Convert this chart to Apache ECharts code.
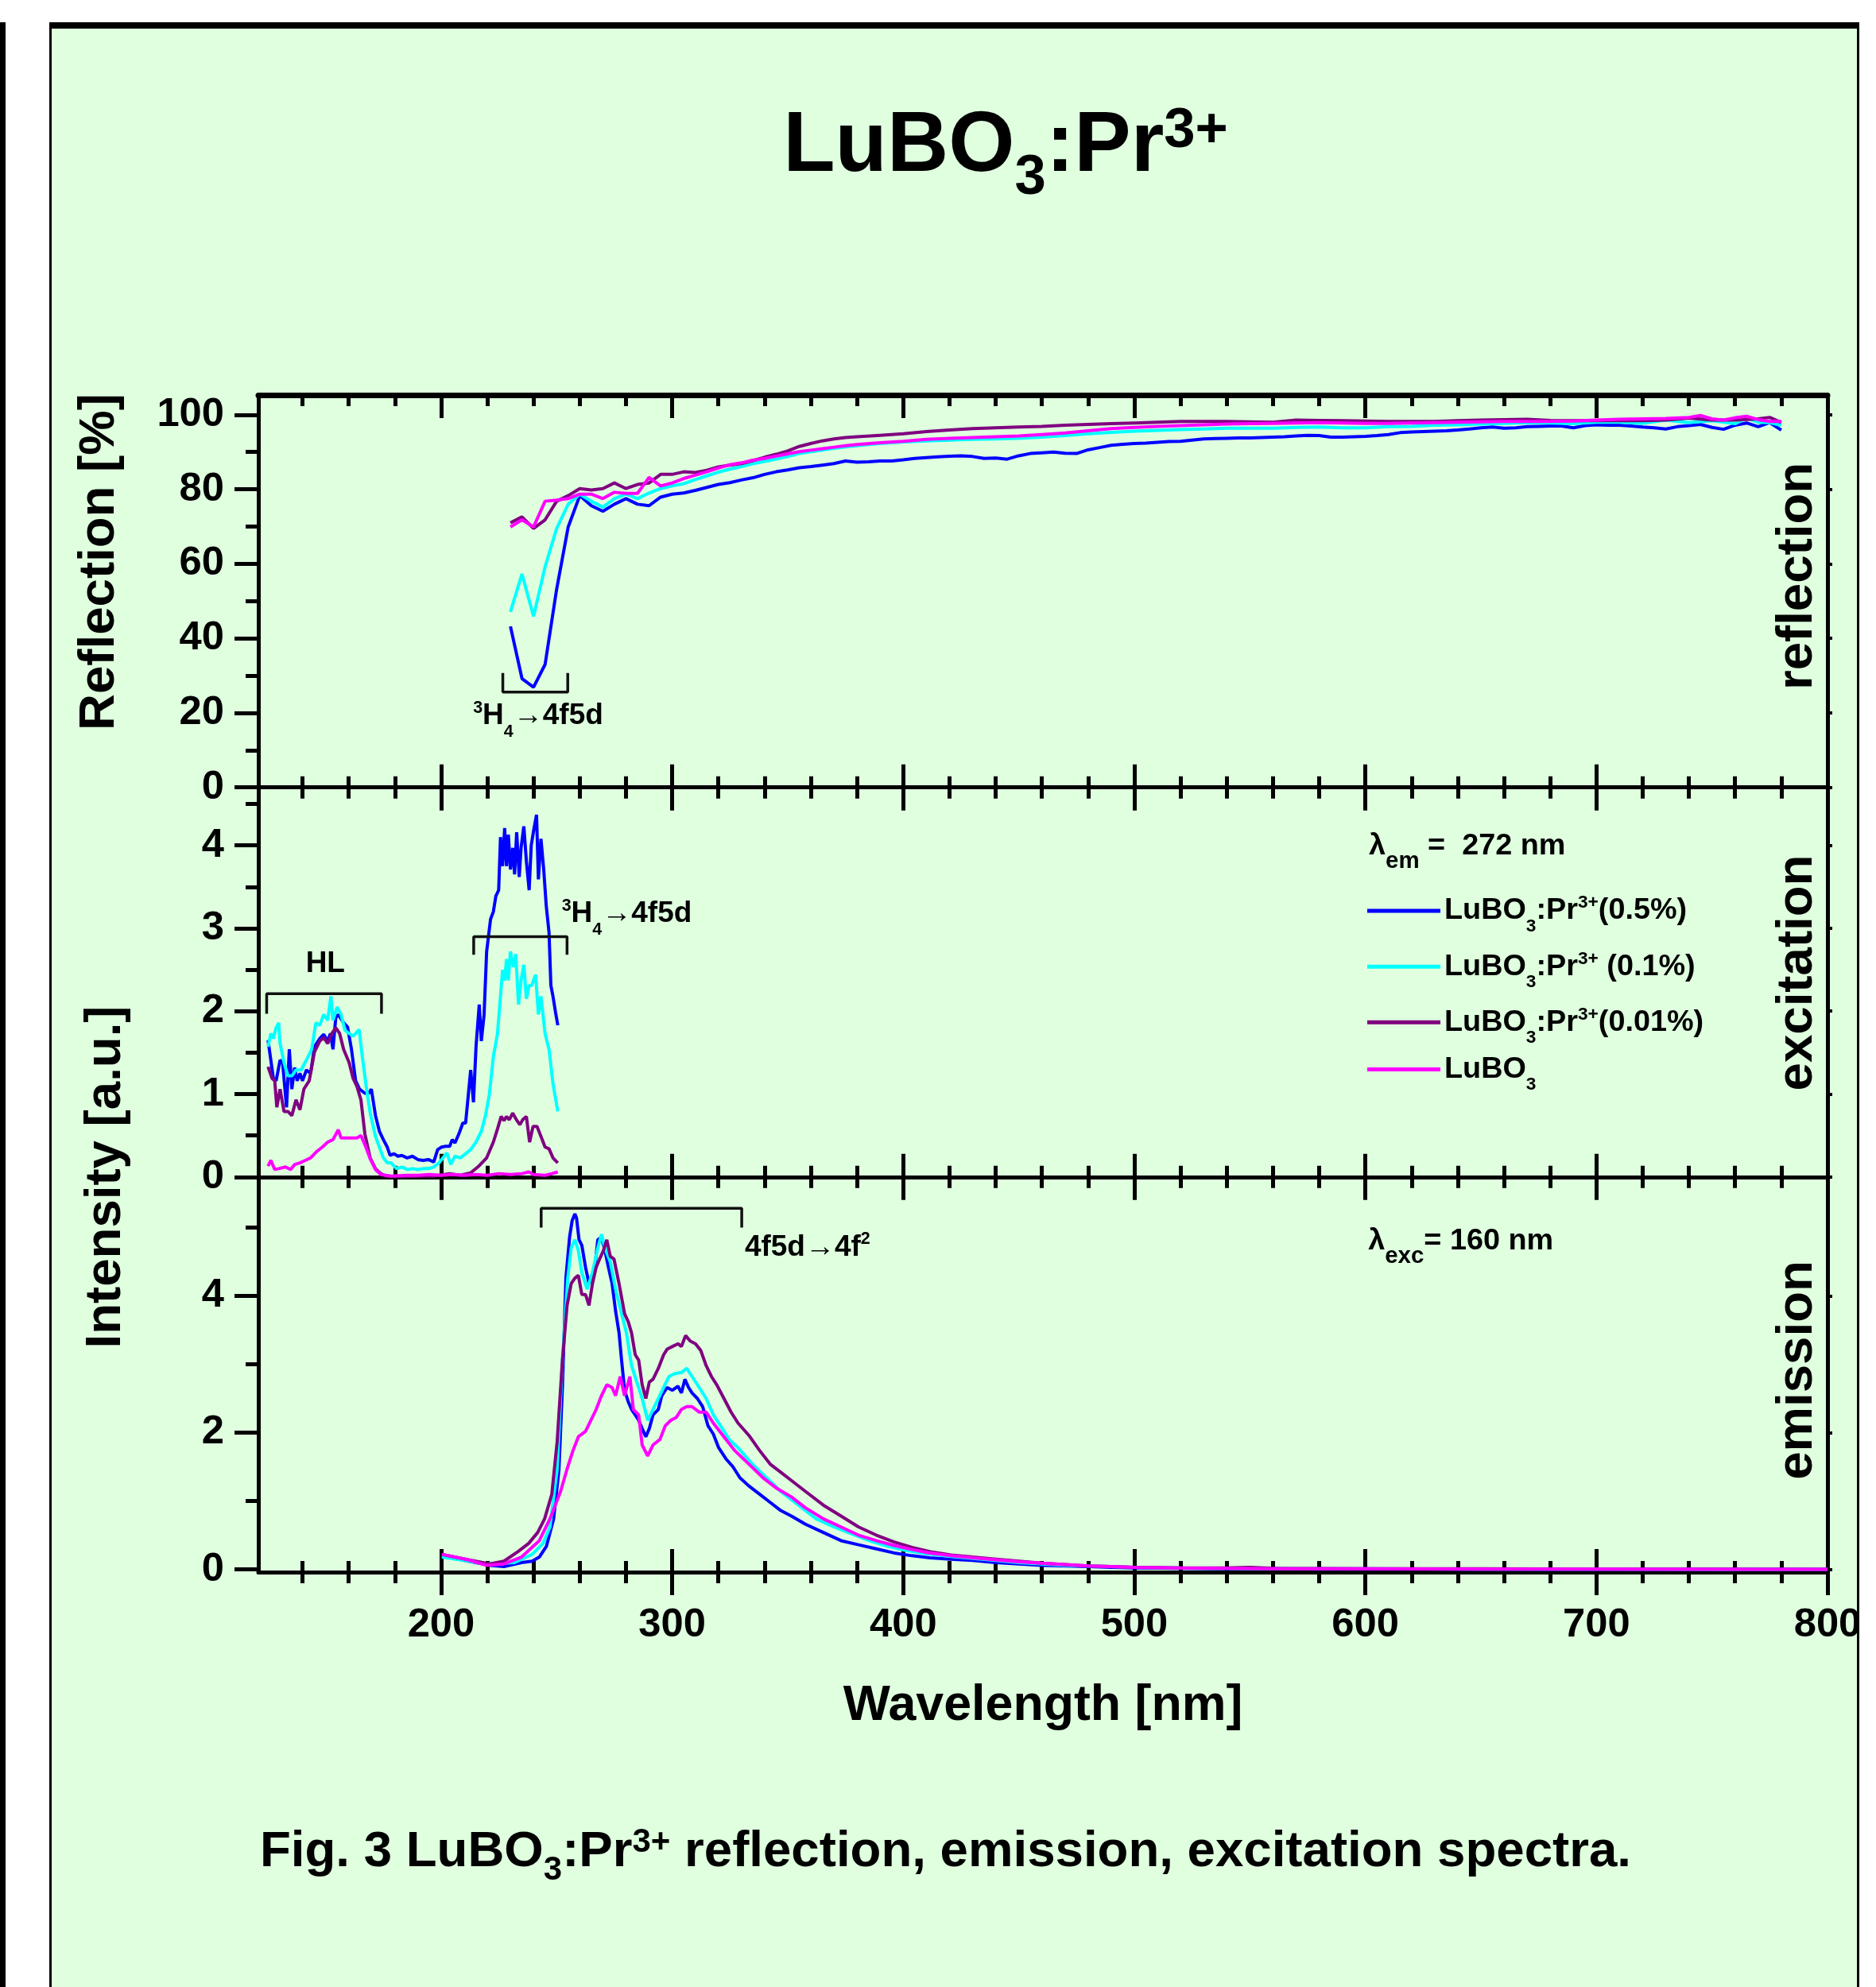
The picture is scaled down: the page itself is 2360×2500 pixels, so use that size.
<!DOCTYPE html>
<html><head><meta charset="utf-8">
<script src="https://cdn.jsdelivr.net/npm/echarts@6/dist/echarts.min.js"></script>
<style>html,body{margin:0;padding:0;background:#fff}#c{width:2360px;height:2500px}</style>
</head><body><div id="c"></div><script>
// ---------------- DATA ----------------
const SERIES_NAMES = ['LuBO3:Pr3+(0.5%)', 'LuBO3:Pr3+ (0.1%)', 'LuBO3:Pr3+(0.01%)', 'LuBO3'];
const SERIES_COLORS = ['#0000ff', '#00ffff', '#800080', '#ff00ff'];
const X_TICKS_MAJOR = [200, 800, 100];
const X_TICKS_MINOR = [140, 780, 20];

// Reflection [%] vs wavelength [nm]
const reflPr05 = [[230,43.2],[235,29.2],[240,26.9],[245,33.0],[250,53.2],[255,69.9],[260,78.3],[265,75.6],[270,74.1],[275,76.0],[280,77.5],[285,76.0],[290,75.6],[295,77.9],[300,78.7],[305,79.0],[310,79.7],[315,80.5],[320,81.3],[325,81.8],[330,82.5],[335,83.1],[340,84.0],[345,84.7],[350,85.2],[355,85.8],[360,86.1],[365,86.5],[370,86.9],[375,87.6],[380,87.3],[385,87.4],[390,87.6],[395,87.6],[400,87.9],[405,88.3],[410,88.5],[415,88.7],[420,88.9],[425,89.0],[430,88.8],[435,88.3],[440,88.4],[445,88.1],[450,89.0],[455,89.6],[460,89.8],[465,90.0],[470,89.7],[475,89.6],[480,90.6],[485,91.2],[490,91.8],[495,92.1],[500,92.3],[505,92.4],[510,92.6],[515,92.8],[520,92.9],[525,93.2],[530,93.5],[535,93.6],[540,93.7],[545,93.8],[550,93.8],[555,93.9],[560,94.0],[565,94.1],[570,94.3],[575,94.5],[580,94.4],[585,94.0],[590,94.0],[595,94.1],[600,94.2],[605,94.4],[610,94.7],[615,95.2],[620,95.4],[625,95.5],[630,95.6],[635,95.7],[640,95.9],[645,96.2],[650,96.5],[655,96.7],[660,96.4],[665,96.5],[670,96.8],[675,96.9],[680,97.0],[685,97.0],[690,96.5],[695,97.1],[700,97.3],[705,97.2],[710,97.2],[715,97.0],[720,96.7],[725,96.5],[730,96.2],[735,96.8],[740,97.1],[745,97.4],[750,96.6],[755,96.1],[760,97.2],[765,97.8],[770,96.8],[775,97.9],[780,95.9]];
const reflPr01 = [[230,47.1],[235,57.3],[240,45.9],[245,59.2],[250,69.5],[255,76.0],[260,78.7],[265,76.8],[270,75.2],[275,77.5],[280,78.7],[285,77.5],[290,79.0],[295,80.2],[300,80.9],[305,81.5],[310,82.6],[315,83.6],[320,84.6],[325,85.4],[330,86.1],[335,86.9],[340,87.5],[345,88.1],[350,88.8],[355,89.6],[360,90.1],[365,90.5],[370,91.0],[375,91.4],[380,91.7],[385,92.0],[390,92.3],[395,92.5],[400,92.7],[410,93.0],[420,93.2],[430,93.4],[440,93.5],[450,93.7],[460,94.0],[470,94.4],[480,94.9],[490,95.3],[500,95.6],[510,95.8],[520,96.0],[530,96.2],[540,96.4],[550,96.4],[560,96.4],[570,96.6],[580,96.7],[590,96.5],[600,96.5],[610,96.8],[620,96.9],[630,97.2],[640,97.3],[650,97.5],[660,97.7],[670,97.9],[680,97.8],[690,97.6],[700,98.0],[710,98.0],[720,97.7],[730,98.6],[740,97.9],[750,98.4],[760,97.6],[765,99.1],[770,98.0],[775,97.9],[780,97.2]];
const reflPr001 = [[230,71.0],[235,72.6],[240,69.5],[245,71.8],[250,76.8],[255,78.3],[260,80.2],[265,79.8],[270,80.2],[275,81.7],[280,80.2],[285,81.3],[290,81.7],[295,84.0],[300,84.0],[305,84.7],[310,84.5],[315,85.1],[320,86.0],[325,86.5],[330,86.9],[335,87.7],[340,88.6],[345,89.4],[350,90.3],[355,91.5],[360,92.3],[365,93.0],[370,93.5],[375,93.9],[380,94.1],[390,94.5],[400,94.9],[410,95.5],[420,95.9],[430,96.3],[440,96.5],[450,96.7],[460,96.9],[470,97.2],[480,97.4],[490,97.6],[500,97.8],[510,98.0],[520,98.2],[530,98.2],[540,98.2],[550,98.1],[560,98.0],[570,98.6],[580,98.5],[590,98.4],[600,98.3],[610,98.2],[620,98.2],[630,98.2],[640,98.4],[650,98.6],[660,98.7],[670,98.8],[680,98.5],[690,98.4],[700,98.4],[710,98.4],[720,98.4],[730,98.6],[740,99.1],[750,98.6],[760,98.6],[770,98.9],[775,99.3],[780,97.9]];
const reflHost = [[230,69.9],[235,71.8],[240,69.9],[245,76.8],[250,77.1],[255,77.5],[260,78.7],[265,78.7],[270,77.5],[275,79.2],[280,78.9],[285,78.9],[290,83.2],[295,80.9],[300,81.7],[305,82.9],[310,83.8],[315,84.7],[320,85.7],[325,86.6],[330,87.1],[335,87.8],[340,88.3],[345,88.9],[350,89.5],[355,90.1],[360,90.5],[365,90.9],[370,91.3],[375,91.7],[380,92.0],[390,92.5],[400,92.9],[410,93.4],[420,93.7],[430,93.9],[440,94.1],[450,94.3],[460,94.7],[470,95.1],[480,95.7],[490,96.3],[500,96.6],[510,96.9],[520,97.1],[530,97.3],[540,97.5],[550,97.6],[560,97.7],[570,97.8],[580,97.9],[590,97.8],[600,97.7],[610,97.7],[620,97.8],[630,97.9],[640,98.0],[650,98.1],[660,98.2],[670,98.2],[680,98.2],[690,98.3],[700,98.6],[710,98.8],[720,98.9],[730,99.0],[740,99.3],[745,99.8],[750,98.9],[755,98.6],[760,99.2],[765,99.6],[770,98.7],[775,98.2],[780,98.2]];

// Excitation intensity [a.u.] (lambda_em = 272 nm)
const excPr05 = [[125.1,1.65],[127.4,1.19],[128.6,1.16],[130.3,1.41],[131.4,1.38],[133.1,0.84],[134.3,1.54],[135.4,1.06],[136.6,1.32],[137.7,1.16],[138.9,1.25],[140.0,1.16],[141.7,1.29],[143.5,1.25],[145.2,1.57],[147.5,1.67],[149.2,1.72],[150.9,1.64],[152.1,1.73],[153.2,1.54],[154.4,1.92],[155.5,1.96],[157.8,1.86],[159.5,1.81],[161.2,1.54],[163.0,1.16],[164.7,1.06],[167.0,1.01],[168.7,1.01],[169.8,1.06],[171.6,0.74],[173.3,0.55],[175.0,0.45],[176.7,0.36],[177.9,0.26],[179.6,0.28],[181.3,0.25],[183.0,0.26],[185.3,0.23],[187.6,0.25],[189.9,0.21],[192.2,0.20],[194.5,0.21],[196.8,0.18],[198.5,0.33],[200.2,0.36],[201.9,0.37],[203.7,0.37],[204.8,0.45],[206.0,0.41],[207.7,0.52],[209.4,0.65],[210.6,0.65],[211.7,0.97],[212.8,1.29],[214.0,0.90],[215.1,1.57],[216.5,2.08],[217.4,1.64],[218.6,1.96],[219.7,2.72],[221.4,3.11],[222.6,3.20],[223.7,3.39],[224.9,3.46],[225.7,4.10],[226.6,3.75],[227.5,4.21],[228.3,3.75],[229.1,4.13],[230.0,3.71],[231.0,3.97],[231.8,3.65],[232.7,4.16],[233.8,3.62],[234.6,3.97],[235.8,4.23],[236.9,3.81],[238.1,3.46],[239.0,4.00],[240.1,4.19],[241.3,4.37],[242.1,3.59],[243.2,4.08],[244.4,3.71],[245.5,3.27],[246.7,2.95],[247.5,2.31],[248.4,2.18],[249.5,1.99],[250.5,1.83]];
const excPr01 = [[125.1,1.57],[126.3,1.73],[127.4,1.67],[128.6,1.80],[129.7,1.86],[130.3,1.61],[132.0,1.38],[133.7,1.22],[135.4,1.22],[137.2,1.29],[139.4,1.29],[141.7,1.41],[144.0,1.54],[145.8,1.86],[147.5,1.83],[149.2,1.96],[150.9,1.89],[152.3,2.18],[153.2,1.89],[155.0,2.05],[156.7,1.96],[158.4,1.77],[160.2,1.73],[161.9,1.70],[163.0,1.73],[164.5,1.78],[165.9,1.45],[167.6,1.09],[169.3,0.77],[171.6,0.49],[173.3,0.36],[175.0,0.23],[176.7,0.17],[178.4,0.17],[180.7,0.10],[183.0,0.12],[185.3,0.09],[187.6,0.10],[189.9,0.09],[192.2,0.10],[194.5,0.10],[196.8,0.12],[199.1,0.17],[200.8,0.23],[202.5,0.29],[204.2,0.15],[206.0,0.25],[208.3,0.23],[210.6,0.28],[212.8,0.33],[215.1,0.42],[217.4,0.55],[219.2,0.74],[220.9,1.00],[222.6,1.45],[224.4,1.73],[225.7,2.18],[226.6,2.50],[227.5,2.37],[228.3,2.63],[229.1,2.37],[230.0,2.72],[231.2,2.53],[232.3,2.69],[233.5,2.08],[234.6,2.37],[235.8,2.56],[236.9,2.15],[238.1,2.31],[239.2,2.31],[240.9,2.44],[242.1,1.96],[243.2,2.18],[245.0,1.73],[246.7,1.54],[248.4,1.13],[250.5,0.79]];
const excPr001 = [[125.1,1.33],[126.8,1.19],[128.0,1.16],[128.9,0.84],[130.3,1.06],[132.0,0.79],[133.7,0.79],[135.4,0.74],[137.2,0.93],[138.9,0.81],[140.6,1.06],[142.9,1.16],[145.2,1.51],[147.5,1.64],[149.2,1.68],[150.9,1.61],[152.7,1.73],[154.4,1.80],[156.1,1.73],[157.8,1.54],[160.2,1.38],[161.9,1.19],[163.6,1.09],[165.3,0.93],[167.0,0.52],[169.3,0.23],[171.6,0.10],[173.9,0.04],[176.1,0.01],[183.0,0.00],[190.0,0.01],[196.8,0.01],[203.7,0.04],[208.3,0.02],[212.8,0.05],[216.3,0.13],[219.7,0.23],[222.6,0.42],[224.4,0.58],[226.0,0.73],[227.2,0.68],[228.3,0.73],[229.5,0.69],[231.0,0.77],[232.6,0.69],[234.1,0.63],[235.3,0.69],[236.9,0.73],[238.3,0.42],[239.8,0.61],[241.5,0.61],[243.2,0.49],[245.0,0.36],[246.7,0.34],[248.4,0.23],[250.5,0.17]];
const excHost = [[125.1,0.13],[126.3,0.20],[128.0,0.09],[129.7,0.10],[132.6,0.12],[134.9,0.09],[136.6,0.15],[138.9,0.17],[141.2,0.20],[143.5,0.23],[146.3,0.31],[148.6,0.36],[150.9,0.42],[153.2,0.45],[155.5,0.57],[156.7,0.47],[160.2,0.47],[163.6,0.47],[165.3,0.50],[167.0,0.39],[169.3,0.22],[171.6,0.09],[173.9,0.03],[178.4,0.01],[185,0.02],[190,0.02],[195,0.03],[200,0.02],[205,0.03],[210,0.02],[215,0.03],[220,0.02],[225,0.04],[230,0.03],[235,0.04],[238,0.06],[240,0.03],[245,0.02],[248,0.04],[250.5,0.06]];

// Emission intensity [a.u.] (lambda_exc = 160 nm)
const emPr05 = [[200.3,0.20],[211.8,0.12],[221.0,0.06],[227.2,0.04],[234.8,0.10],[239.4,0.12],[242.5,0.18],[245.6,0.34],[248.7,0.74],[251.0,1.46],[252.5,2.66],[254.0,4.26],[255.6,4.86],[256.7,5.10],[257.9,5.20],[258.6,5.14],[259.7,4.82],[260.9,4.74],[262.5,4.42],[264.0,4.18],[266.3,4.34],[267.8,4.82],[269.4,4.86],[270.9,4.66],[272.4,4.42],[274.0,4.18],[275.5,3.78],[277.0,3.46],[278.1,3.06],[279.4,2.62],[280.9,2.46],[282.4,2.34],[284.0,2.26],[285.5,2.18],[287.0,2.06],[288.6,1.94],[290.1,2.06],[291.7,2.26],[294.0,2.34],[295.5,2.54],[297.8,2.66],[300.1,2.62],[302.5,2.68],[304.0,2.58],[305.5,2.78],[307.1,2.66],[308.6,2.58],[310.9,2.50],[313.2,2.38],[315.5,2.10],[317.8,1.98],[320.1,1.78],[323.2,1.62],[326.3,1.50],[329.3,1.34],[333.2,1.22],[337.8,1.10],[342.4,0.98],[347.0,0.86],[351.6,0.78],[357.7,0.66],[365.4,0.54],[373.1,0.42],[380.7,0.36],[388.4,0.30],[396.1,0.24],[403.8,0.20],[411.5,0.17],[420.7,0.15],[430,0.13],[440,0.10],[450,0.08],[460,0.06],[470,0.05],[480,0.04],[490,0.03],[500,0.02],[520,0.015],[540,0.01],[560,0.01],[580,0.005],[600,0.005],[650,0.003],[700,0.002],[750,0.0],[800,0.0]];
const emPr01 = [[200.3,0.18],[210,0.13],[219.5,0.08],[231.8,0.10],[239.4,0.22],[244.1,0.38],[247.1,0.62],[250.2,1.46],[252.5,3.06],[254.8,4.26],[256.3,4.70],[257.9,4.82],[259.4,4.66],[260.9,4.34],[263.2,4.10],[265.5,4.34],[267.8,4.70],[269.4,4.90],[270.9,4.70],[273.2,4.50],[275.5,4.10],[277.8,3.78],[280.2,3.46],[282.4,2.98],[284.7,2.74],[287.0,2.50],[289.4,2.18],[291.7,2.34],[294.0,2.50],[296.3,2.66],[298.6,2.82],[300.9,2.86],[304.0,2.88],[306.3,2.94],[308.6,2.82],[311.7,2.66],[314.7,2.50],[317.8,2.26],[320.9,2.10],[324.7,1.90],[328.5,1.78],[334.7,1.54],[340.8,1.34],[347.0,1.14],[354.6,0.94],[362.3,0.74],[370.0,0.62],[377.7,0.52],[385.3,0.42],[393.0,0.34],[400.7,0.28],[409.9,0.23],[420.7,0.19],[430,0.16],[440,0.13],[450,0.10],[460,0.08],[470,0.06],[480,0.05],[490,0.04],[500,0.03],[520,0.02],[540,0.015],[560,0.01],[600,0.01],[650,0.005],[700,0.005],[750,0.002],[800,0.0]];
const emPr001 = [[200.3,0.22],[211.8,0.14],[221.0,0.08],[227.2,0.12],[233.3,0.26],[237.9,0.38],[241.8,0.54],[244.8,0.74],[247.9,1.10],[250.2,1.86],[252.5,3.06],[254.5,3.86],[256.3,4.18],[257.9,4.26],[259.4,4.30],[260.9,4.02],[262.5,4.02],[264.0,3.86],[265.5,4.18],[267.1,4.42],[268.6,4.54],[270.2,4.66],[271.7,4.82],[273.2,4.58],[274.8,4.54],[277.0,4.18],[279.4,3.74],[281.0,3.62],[282.4,3.46],[284.0,3.14],[285.5,3.06],[287.0,2.70],[288.6,2.50],[290.1,2.74],[291.7,2.78],[294.0,2.94],[296.3,3.14],[297.8,3.22],[300.1,3.26],[302.5,3.30],[304.0,3.26],[305.8,3.42],[307.8,3.34],[310.1,3.30],[312.4,3.20],[314.7,2.98],[317.0,2.82],[319.3,2.70],[322.4,2.50],[325.5,2.30],[328.5,2.14],[333.2,1.96],[337.8,1.74],[342.4,1.54],[347.0,1.42],[351.6,1.30],[357.7,1.14],[365.4,0.94],[373.1,0.78],[380.7,0.62],[388.4,0.50],[396.1,0.40],[403.8,0.32],[411.5,0.26],[420.7,0.21],[430,0.18],[440,0.15],[450,0.12],[460,0.09],[470,0.07],[480,0.05],[490,0.04],[500,0.03],[520,0.02],[540,0.02],[550,0.03],[560,0.015],[600,0.01],[650,0.01],[700,0.005],[750,0.005],[800,0.0]];
const emHost = [[200.3,0.22],[211.8,0.14],[219.5,0.06],[227.2,0.08],[234.8,0.18],[242.5,0.42],[247.1,0.74],[251.7,1.14],[254.8,1.50],[257.1,1.74],[259.4,1.94],[262.5,2.02],[264.8,2.18],[267.1,2.34],[269.4,2.54],[271.7,2.70],[274.0,2.66],[275.5,2.54],[277.5,2.82],[279.4,2.54],[281.7,2.82],[283.2,2.34],[285.5,2.26],[287.0,1.82],[289.4,1.66],[291.7,1.82],[294.7,1.90],[297.0,2.10],[299.4,2.18],[301.7,2.22],[304.0,2.34],[306.3,2.38],[308.6,2.38],[311.7,2.30],[314.7,2.30],[317.8,2.14],[322.4,1.94],[327.0,1.74],[333.2,1.54],[339.3,1.34],[345.5,1.18],[351.6,1.06],[357.7,0.90],[365.4,0.74],[373.1,0.62],[380.7,0.50],[388.4,0.42],[396.1,0.35],[403.8,0.29],[411.5,0.24],[420.7,0.20],[430,0.17],[440,0.14],[450,0.11],[460,0.09],[470,0.07],[480,0.05],[490,0.04],[500,0.03],[520,0.02],[540,0.015],[560,0.01],[600,0.01],[650,0.005],[700,0.005],[750,0.002],[800,0.0]];

// Annotation brackets (data coordinates of each panel)
const bracketRefl = [[226.7,30.7],[226.7,25.6],[254.8,25.6],[254.8,30.7]];
const bracketHL = [[124.5,1.97],[124.5,2.21],[174.2,2.21],[174.2,1.97]];
const bracketExc = [[214.1,2.68],[214.1,2.90],[254.5,2.90],[254.5,2.68]];
const bracketEm = [[243.3,5.00],[243.3,5.28],[330.1,5.28],[330.1,5.00]];

// ---------------- FONTS ----------------
const mctx = document.createElement('canvas').getContext('2d');
function fontExists(name){
  const s = 'abcdefghijklmnopqrstuvwxyzWMB0123456789';
  let r = false;
  ['monospace','serif'].forEach(fb => {
    mctx.font = 'bold 100px ' + fb; const a = mctx.measureText(s).width;
    mctx.font = 'bold 100px "' + name + '", ' + fb; const b = mctx.measureText(s).width;
    if (a !== b) r = true;
  });
  return r;
}
const FAM = fontExists('Liberation Sans Narrow') ? '"Liberation Sans Narrow", "Liberation Sans", Arial, sans-serif'
          : (fontExists('Arial Narrow') ? '"Arial Narrow", "Liberation Sans", Arial, sans-serif' : '"Liberation Sans", Arial, sans-serif');
const FAM_TITLE = '"Liberation Sans", Arial, sans-serif';
mctx.font = 'bold 73px ' + FAM;
const K = 503 / mctx.measureText('Wavelength [nm]').width;
const fs = s => Math.round(s * K * 10) / 10;

// rich text with sub/superscripts: token 'height' sets where the small token sits in the line box
function richSet(s, o, fam){
  const base = {fontFamily: fam || FAM, fontWeight: 'bold', fill: '#000', color: '#000'};
  const hs = Math.max(1, o.lh - 2 * o.up * s), hb = Math.max(1, o.lh - 2 * o.down * s);
  return {
    m: Object.assign({}, base, {fontSize: s, lineHeight: o.lh, verticalAlign: 'middle'}),
    sp: Object.assign({}, base, {fontSize: s * o.small, height: hs, lineHeight: hs, verticalAlign: 'top'}),
    sb: Object.assign({}, base, {fontSize: s * o.small, height: hb, lineHeight: hb, verticalAlign: 'bottom'})
  };
}

// ---------------- LAYOUT ----------------
const X_L = 325, X_R = 2299, XMIN = 120.9, XMAX = 800;
const xpx = v => X_L + (v - XMIN) * (X_R - X_L) / (XMAX - XMIN);
const PANELS = [
  {top: 497, bot: 990.7, ymin: 0, ymax: 105.3, maj: [0, 100, 20], mnr: [10, 90, 20]},
  {top: 990.7, bot: 1480.8, ymin: 0, ymax: 4.70, maj: [0, 4, 1], mnr: [0.5, 4.5, 1]},
  {top: 1480.8, bot: 1978, ymin: -0.04, ymax: 5.74, maj: [0, 4, 2], mnr: [1, 5, 2]}
];
const ypx = (P, v) => P.bot - (v - P.ymin) / (P.ymax - P.ymin) * (P.bot - P.top);
const BLACK = '#000', LW = 5;
const grid = [], xAxis = [], yAxis = [], series = [];
const DX = [], DY = [];
function G(left, top, width, height){ grid.push({left, top, width, height, show: false, containLabel: false, outerBoundsMode: 'none'}); return grid.length - 1; }
function AX(list, o){
  list.push(Object.assign({type: 'value', splitLine: {show: false}, axisLabel: {show: false}, axisTick: {show: false},
    axisLine: {show: false, onZero: false}, minorTick: {show: false}, minorSplitLine: {show: false}}, o));
  return list.length - 1;
}
const lineOn = w => ({show: true, onZero: false, lineStyle: {color: BLACK, width: w}});
const tickLabel = (margin) => ({show: true, margin, fontSize: fs(59), fontWeight: 'bold', fontFamily: FAM, color: BLACK, showMinLabel: true, showMaxLabel: true});

PANELS.forEach((P, i) => {
  const h = P.bot - P.top;
  const g = G(X_L, P.top, X_R - X_L, h);
  DX[i] = AX(xAxis, {gridIndex: g, position: 'bottom', min: XMIN, max: XMAX, axisLine: lineOn(LW)});
  AX(xAxis, {gridIndex: g, position: 'top', min: XMIN, max: XMAX, axisLine: lineOn(i === 0 ? 7 : LW)});
  DY[i] = AX(yAxis, {gridIndex: g, position: 'left', min: P.ymin, max: P.ymax, axisLine: lineOn(LW)});
  AX(yAxis, {gridIndex: g, position: 'right', min: P.ymin, max: P.ymax, axisLine: lineOn(LW)});
  // x ticks (major & minor), crossing at panel borders
  [[X_TICKS_MAJOR, 29], [X_TICKS_MINOR, 14]].forEach(([T, len], k) => {
    const gl = xpx(T[0]), gr = xpx(T[1]);
    const gx = G(gl, P.top, gr - gl, h);
    AX(yAxis, {gridIndex: gx, show: false, min: 0, max: 1});
    const tk = inside => ({show: true, inside, length: len, lineStyle: {color: BLACK, width: LW}});
    const base = {gridIndex: gx, min: T[0], max: T[1], interval: T[2]};
    AX(xAxis, Object.assign({}, base, {position: 'bottom', axisTick: tk(false), axisLabel: (i === 2 && k === 0) ? tickLabel(42) : {show: false}}));
    AX(xAxis, Object.assign({}, base, {position: 'top', axisTick: tk(i === 0)}));
    if (i === 2) AX(xAxis, Object.assign({}, base, {position: 'bottom', axisTick: tk(true)}));
  });
  // y ticks
  [[P.maj, 30, true], [P.mnr, 16, false]].forEach(([T, len, major]) => {
    const gt = ypx(P, T[1]), gb = ypx(P, T[0]);
    const gy = G(X_L, gt, X_R - X_L, gb - gt);
    AX(xAxis, {gridIndex: gy, show: false, min: 0, max: 1});
    AX(yAxis, {gridIndex: gy, position: 'left', min: T[0], max: T[1], interval: T[2],
      axisTick: {show: true, inside: false, length: len, lineStyle: {color: BLACK, width: LW}},
      axisLabel: major ? tickLabel(43) : {show: false}});
    if (major) AX(yAxis, {gridIndex: gy, position: 'right', min: T[0], max: T[1], interval: T[2],
      axisTick: {show: true, inside: false, length: 6, lineStyle: {color: BLACK, width: 4}}});
  });
});

const PANEL_DATA = [
  [reflPr05, reflPr01, reflPr001, reflHost],
  [excPr05, excPr01, excPr001, excHost],
  [emPr05, emPr01, emPr001, emHost]
];
PANEL_DATA.forEach((arr, i) => arr.forEach((d, k) => series.push({
  type: 'line', name: SERIES_NAMES[k], xAxisIndex: DX[i], yAxisIndex: DY[i], data: d,
  showSymbol: false, symbol: 'none', color: SERIES_COLORS[k], itemStyle: {color: SERIES_COLORS[k]},
  lineStyle: {color: SERIES_COLORS[k], width: 4}, silent: true, z: 3
})));
[[0, bracketRefl], [1, bracketHL], [1, bracketExc], [2, bracketEm]].forEach(([p, pts], j) => series.push({
  type: 'line', name: 'bracket' + j, xAxisIndex: DX[p], yAxisIndex: DY[p], data: pts,
  showSymbol: false, symbol: 'none', color: '#111', lineStyle: {color: '#111', width: 3.5}, silent: true, z: 4
}));

const legRich = richSet(fs(44), {lh: 60, up: 0.26, down: 0.52, small: 0.6});
const LEG_TEXT = {
  'LuBO3:Pr3+(0.5%)': '{m|LuBO}{sb|3}{m|:Pr}{sp|3+}{m|(0.5%)}',
  'LuBO3:Pr3+ (0.1%)': '{m|LuBO}{sb|3}{m|:Pr}{sp|3+}{m| (0.1%)}',
  'LuBO3:Pr3+(0.01%)': '{m|LuBO}{sb|3}{m|:Pr}{sp|3+}{m|(0.01%)}',
  'LuBO3': '{m|LuBO}{sb|3}'
};

const option = {
  animation: false,
  backgroundColor: '#dfffdf',
  textStyle: {fontFamily: FAM},
  grid, xAxis, yAxis, series,
  legend: {
    data: SERIES_NAMES, orient: 'vertical', left: 1720, top: 1116, padding: 0,
    itemWidth: 92, itemHeight: 5, itemGap: 9, icon: 'rect', selectedMode: false,
    itemStyle: {borderWidth: 0},
    formatter: n => LEG_TEXT[n],
    textStyle: {rich: legRich, fontFamily: FAM, fontWeight: 'bold', fontSize: fs(44), color: '#000'}
  }
};

const chart = echarts.init(document.getElementById('c'), null, {renderer: 'canvas', width: 2360, height: 2500});
chart.setOption(option);

// ---------------- TEXT / FRAME GRAPHICS ----------------
function txt(x, y, text, rich, align, rot, fam, size){
  return {type: 'text', x, y, rotation: rot || 0, z: 100, silent: true,
    style: {text, rich, align, verticalAlign: 'middle', textAlign: align, textVerticalAlign: 'middle',
      fill: '#000', font: 'bold ' + size + 'px ' + (fam || FAM)}};
}
const P2 = (p, x, y) => chart.convertToPixel({xAxisIndex: DX[p], yAxisIndex: DY[p]}, [x, y]);
const titleRich = richSet(107, {lh: 170, up: 0.18, down: 0.37, small: 0.66}, FAM_TITLE);
const capRich = richSet(fs(74), {lh: 120, up: 0.18, down: 0.37, small: 0.66});
const annRich = richSet(fs(43), {lh: 70, up: 0.28, down: 0.53, small: 0.58});
const lamRich = richSet(fs(44), {lh: 70, up: 0.28, down: 0.5, small: 0.78});
const plain = s => ({m: {fontFamily: FAM, fontWeight: 'bold', fontSize: s, fill: '#000', color: '#000'}});

const a1 = P2(0, 242, 19.1), a2 = P2(1, 149.9, 2.57), a3 = P2(1, 252.2, 3.17), a4 = P2(2, 331.4, 4.71);
const l1 = P2(1, 601.5, 3.99), l2 = P2(2, 601.2, 4.80);

const graphic = [
  {type: 'rect', shape: {x: 0, y: 0, width: 2360, height: 28}, style: {fill: '#fff'}, silent: true, z: 90},
  {type: 'rect', shape: {x: 0, y: 28, width: 62, height: 2472}, style: {fill: '#fff'}, silent: true, z: 90},
  {type: 'rect', shape: {x: 2339, y: 0, width: 21, height: 2500}, style: {fill: '#fff'}, silent: true, z: 90},
  {type: 'rect', shape: {x: 0, y: 28, width: 7, height: 2472}, style: {fill: '#000'}, silent: true, z: 91},
  {type: 'rect', shape: {x: 62, y: 28, width: 3, height: 2472}, style: {fill: '#000'}, silent: true, z: 91},
  {type: 'rect', shape: {x: 2336, y: 28, width: 3, height: 2472}, style: {fill: '#000'}, silent: true, z: 91},
  {type: 'rect', shape: {x: 62, y: 28, width: 2277, height: 8}, style: {fill: '#000'}, silent: true, z: 91},
  txt(1265, 185, '{m|LuBO}{sb|3}{m|:Pr}{sp|3+}', titleRich, 'center', 0, FAM_TITLE, 107),
  txt(327, 2330, '{m|Fig. 3 LuBO}{sb|3}{m|:Pr}{sp|3+}{m| reflection, emission, excitation spectra.}', capRich, 'left', 0, FAM, fs(74)),
  txt(1312, 2147, '{m|Wavelength [nm]}', plain(fs(73)), 'center', 0, FAM, fs(73)),
  txt(125, 707, '{m|Reflection [%]}', plain(fs(74)), 'center', Math.PI / 2, FAM, fs(74)),
  txt(133, 1481, '{m|Intensity [a.u.]}', plain(fs(74)), 'center', Math.PI / 2, FAM, fs(74)),
  txt(2261, 725, '{m|reflection}', plain(fs(74)), 'center', Math.PI / 2, FAM, fs(74)),
  txt(2261, 1224, '{m|excitation}', plain(fs(74)), 'center', Math.PI / 2, FAM, fs(74)),
  txt(2261, 1724, '{m|emission}', plain(fs(74)), 'center', Math.PI / 2, FAM, fs(74)),
  txt(a1[0], a1[1], '{sp|3}{m|H}{sb|4}{m|→4f5d}', annRich, 'center', 0, FAM, fs(43)),
  txt(a2[0], a2[1], '{m|HL}', plain(fs(43)), 'center', 0, FAM, fs(43)),
  txt(a3[0], a3[1], '{sp|3}{m|H}{sb|4}{m|→4f5d}', annRich, 'left', 0, FAM, fs(43)),
  txt(a4[0], a4[1], '{m|4f5d→4f}{sp|2}', annRich, 'left', 0, FAM, fs(43)),
  txt(l1[0], l1[1], '{m|λ}{sb|em}{m| =  272 nm}', lamRich, 'left', 0, FAM, fs(44)),
  txt(l2[0], l2[1], '{m|λ}{sb|exc}{m|= 160 nm}', lamRich, 'left', 0, FAM, fs(44))
];
chart.setOption({graphic: {elements: graphic}});
</script></body></html>
